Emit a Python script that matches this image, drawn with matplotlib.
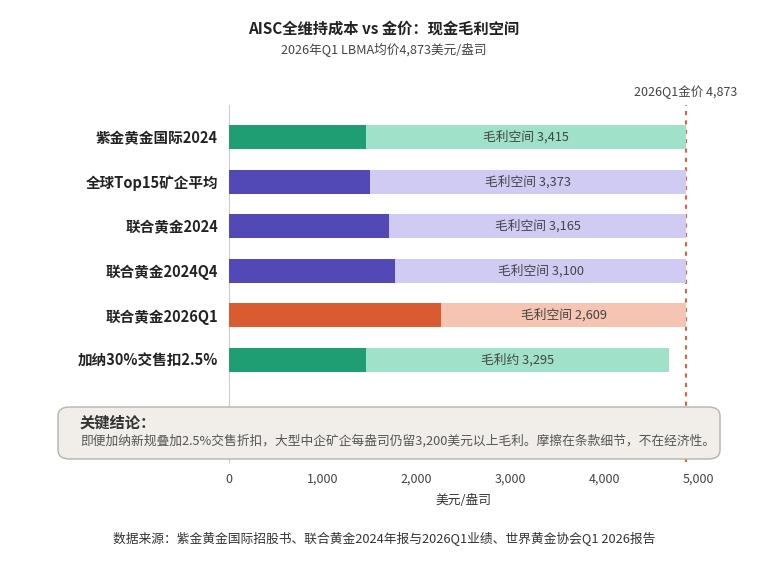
import numpy as np
import matplotlib.pyplot as plt
from matplotlib.patches import FancyBboxPatch

plt.rcParams['font.family'] = ['Noto Sans CJK SC', 'DejaVu Sans']

# data
names = ['紫金黄金国际2024', '全球Top15矿企平均', '联合黄金2024', '联合黄金2024Q4',
         '联合黄金2026Q1', '加纳30%交售扣2.5%']
aisc = [1458, 1500, 1708, 1773, 2264, 1458]
margin = [3415, 3373, 3165, 3100, 2609, 3232]
margin_labels = ['毛利空间 3,415', '毛利空间 3,373', '毛利空间 3,165', '毛利空间 3,100',
                 '毛利空间 2,609', '毛利约 3,295']
gold_price = 4873
dark_cols = ['#1f9e74', '#5249b6', '#5249b6', '#5249b6', '#d95b31', '#1f9e74']
light_cols = ['#9fe1c9', '#cfcbf3', '#cfcbf3', '#cfcbf3', '#f5c4b2', '#9fe1c9']

fig = plt.figure(figsize=(7.68, 5.76), dpi=100)
ax = fig.add_axes([229/768, 1-462/576, 469/768, 357/576])

y = np.arange(len(names))
h = 0.54
ax.barh(y, aisc, height=h, color=dark_cols, zorder=3)
ax.barh(y, margin, left=aisc, height=h, color=light_cols, zorder=2)
for i in range(len(names)):
    ax.text(aisc[i] + margin[i]/2, y[i], margin_labels[i], ha='center', va='center',
            fontsize=9.2, color='#444444', zorder=4)

ax.axvline(gold_price, color='#e0603a', ls=(0, (2, 2.5)), lw=1.5, zorder=1)
ax.text(gold_price, -0.85, '2026Q1金价 4,873', ha='center', va='bottom',
        fontsize=9, color='#444444')

ax.set_xlim(0, 5000)
ax.set_ylim(7.3, -0.72)
ax.set_yticks(y)
ax.set_yticklabels(names, fontsize=10.5, fontweight='bold', color='#222222')
ax.set_xticks([0, 1000, 2000, 3000, 4000, 5000])
ax.set_xticklabels(['0', '1,000', '2,000', '3,000', '4,000', '5,000'], fontsize=9, color='#444444')
ax.tick_params(length=0)
ax.tick_params(axis='y', pad=8)
ax.tick_params(axis='x', pad=8)
ax.set_xlabel('美元/盎司', fontsize=9.2, color='#333333', labelpad=6)
for s in ['top', 'right', 'bottom']:
    ax.spines[s].set_visible(False)
ax.spines['left'].set_color('#cccccc')

# conclusion box
box = FancyBboxPatch((58/768, 1-459/576), 662/768, 52/576,
                     boxstyle='round,pad=0,rounding_size=0.015',
                     transform=fig.transFigure, facecolor='#f1eee9',
                     edgecolor='#b5b2ad', lw=1, zorder=5)
fig.patches.append(box)
fig.text(80/768, 1-423/576, '关键结论：', fontsize=11, fontweight='bold',
         color='#333333', va='center', zorder=6)
fig.text(80/768, 1-441/576, '即便加纳新规叠加2.5%交售折扣，大型中企矿企每盎司仍留3,200美元以上毛利。摩擦在条款细节，不在经济性。',
         fontsize=9.2, color='#555555', va='center', zorder=6)

fig.text(0.5, 1-29/576, 'AISC全维持成本 vs 金价：现金毛利空间', ha='center', va='center',
         fontsize=11, fontweight='bold', color='#222222')
fig.text(0.5, 1-50/576, '2026年Q1 LBMA均价4,873美元/盎司', ha='center', va='center',
         fontsize=9.1, color='#444444')
fig.text(0.5, 1-539/576, '数据来源：紫金黄金国际招股书、联合黄金2024年报与2026Q1业绩、世界黄金协会Q1 2026报告',
         ha='center', va='center', fontsize=9.2, color='#333333')

fig.savefig('out.png', dpi=100)
